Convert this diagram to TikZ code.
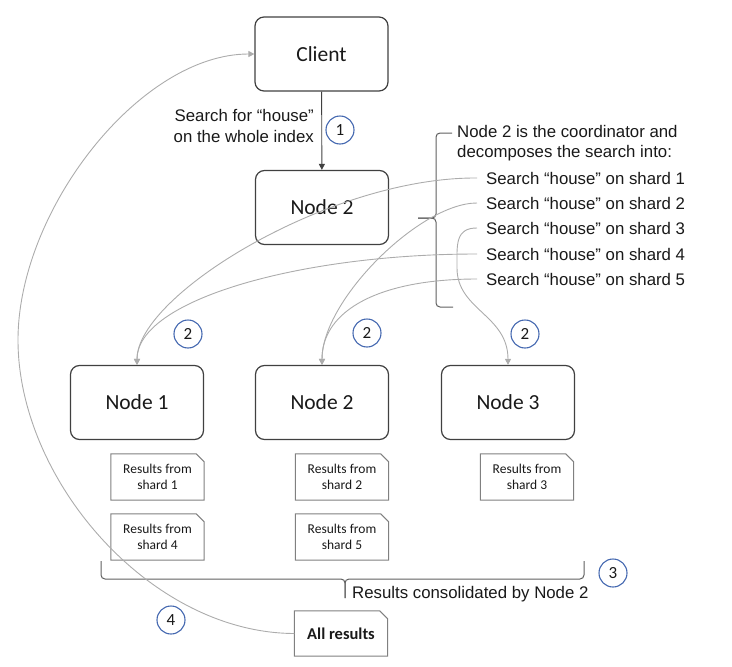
\documentclass[tikz,border=0pt]{standalone}
\usepackage{fontspec}
\setmainfont{Liberation Sans}
\newfontfamily\carlito{Carlito}
\usetikzlibrary{arrows.meta}
\definecolor{linegray}{RGB}{172,172,172}
\definecolor{boxdark}{RGB}{64,64,64}
\definecolor{docgray}{RGB}{128,128,128}
\definecolor{bracegray}{RGB}{95,95,95}
\definecolor{stepblue}{RGB}{68,104,176}
\definecolor{txt}{RGB}{25,25,25}
\begin{document}
\begin{tikzpicture}[x=1pt,y=-1pt,
  server/.style={draw=boxdark, line width=1.2pt, rounded corners=9pt, minimum width=133pt, minimum height=74pt, inner sep=0pt, text=txt, font=\carlito\fontsize{21.5}{24}\selectfont},
  docbox/.style={minimum width=93pt, minimum height=46pt, inner sep=0pt, align=center, text=txt, font=\carlito\fontsize{13.5}{16.7}\selectfont},
  docline/.style={draw=docgray, line width=1pt},
  plain/.style={inner sep=0pt, text=txt, font=\fontsize{16.8}{20.5}\selectfont},
  searchline/.style={anchor=west, inner xsep=9pt, inner ysep=2pt, text=txt, font=\fontsize{16.8}{20}\selectfont},
  stepnum/.style={circle, draw=stepblue, line width=1.1pt, minimum size=28pt, inner sep=0pt, text=txt, font=\carlito\fontsize{17}{17}\selectfont},
  conn/.style={draw=linegray, line width=0.9pt, -{Triangle[width=6pt,length=6pt]}},
  darkconn/.style={draw=boxdark, line width=0.9pt, -{Triangle[width=6pt,length=6pt]}},
  bracestyle/.style={draw=bracegray, line width=1pt, rounded corners=4pt}
]
\useasboundingbox (0,0) rectangle (732,667);

% servers
\node[server] (client) at (321.5,54) {Client};
\node[server] (n2top) at (322,207.5) {Node 2};
\node[server] (n1) at (137,402.5) {Node 1};
\node[server] (n2) at (322,402.5) {Node 2};
\node[server] (n3) at (508,402.5) {Node 3};

% client -> node 2
\draw[darkconn] (client) -- (n2top);
\node[plain, anchor=east, align=right] (searchtxt) at (314,126) {Search for “house”\\on the whole index};
\node[stepnum] (st1) at (340,130) {1};

% coordinator text
\node[plain, anchor=west, align=left] (coord) at (457,143) {Node 2 is the coordinator and\\decomposes the search into:};
\node[searchline] (s1) at (477,178) {Search “house” on shard 1};
\node[searchline] (s2) at (477,203) {Search “house” on shard 2};
\node[searchline] (s3) at (477,228) {Search “house” on shard 3};
\node[searchline] (s4) at (477,254) {Search “house” on shard 4};
\node[searchline] (s5) at (477,279) {Search “house” on shard 5};

% brace right of node 2
\draw[bracestyle] (452,133) -- (436,133) -- (436,218) -- (418,218);
\draw[bracestyle] (418,218) -- (436,218) -- (436,307) -- (453,307);

% sub-search connectors
\coordinate (s3mid) at (457,268);
\draw[conn] (s1.west) .. controls (330,177) and (137,295) .. (n1.north);
\draw[conn] (s2.west) .. controls (420,203) and (322,300) .. (n2.north);
\draw[conn] (s3.west) .. controls (455,228) and (457,245) .. (s3mid) .. controls (457,310) and (508,315) .. (n3.north);
\draw[conn] (s4.west) .. controls (300,254) and (137,300) .. (n1.north);
\draw[conn] (s5.west) .. controls (380,279) and (322,310) .. (n2.north);

\node[stepnum] (st2a) at (188,334) {2};
\node[stepnum] (st2b) at (367,333) {2};
\node[stepnum] (st2c) at (525,334) {2};

% result documents
\node[docbox] (r1) at (157.5,477) {Results from\\shard 1};
\node[docbox] (r4) at (157.5,537) {Results from\\shard 4};
\node[docbox] (r2) at (342,477) {Results from\\shard 2};
\node[docbox] (r5) at (342,537) {Results from\\shard 5};
\node[docbox] (r3) at (527,477) {Results from\\shard 3};
\node[docbox, minimum height=45pt, font=\carlito\bfseries\fontsize{16.5}{18}\selectfont] (allres) at (341,633.5) {All results};
\foreach \d in {r1,r2,r3,r4,r5,allres}
  \path[docline] (\d.south west) -- (\d.north west) -- ([xshift=-8pt]\d.north east) -- ([yshift=-8pt]\d.north east) -- (\d.south east) -- cycle;

% bottom brace
\draw[bracestyle] (101,561) -- (101,579) -- (345,579) -- (345,598);
\draw[bracestyle] (345,598) -- (345,579) -- (584,579) -- (584,561);
\node[plain, anchor=west] (consol) at (352,594) {Results consolidated by Node 2};
\node[stepnum] (st3) at (613,573) {3};

% return to client
\coordinate (retmid) at (18,340);
\draw[conn] (allres.west) .. controls (150,633) and (18,480) .. (retmid) .. controls (18,210) and (140,54) .. (client.west);
\node[stepnum] (st4) at (171,620) {4};
\end{tikzpicture}
\end{document}
